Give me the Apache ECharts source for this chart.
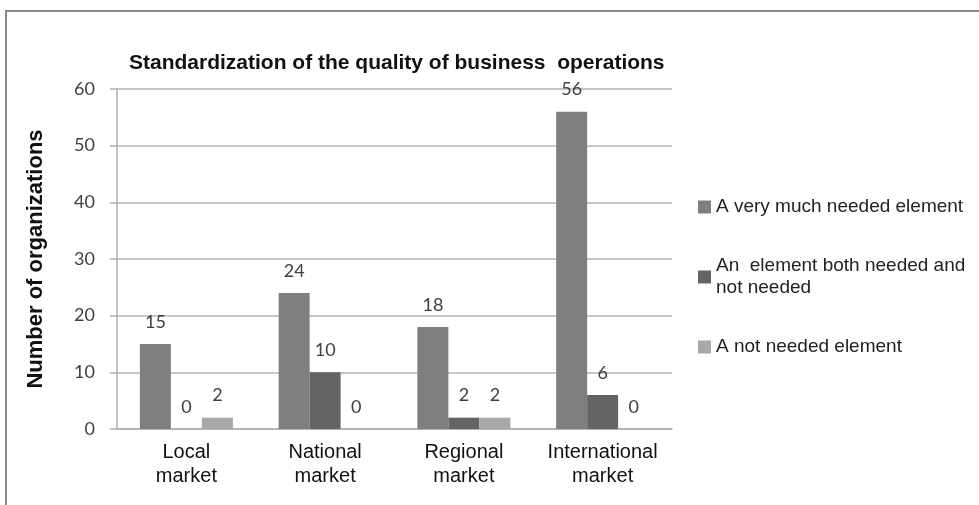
<!DOCTYPE html>
<html>
<head>
<meta charset="utf-8">
<script src="https://cdn.jsdelivr.net/npm/echarts@6/dist/echarts.min.js"></script>
<style>
  html, body { margin: 0; padding: 0; background: #fff; }
  #chart { width: 979px; height: 505px; }
</style>
</head>
<body>
<div id="chart"></div>
<script>
// 数据
const categories = ["Local\nmarket", "National\nmarket", "Regional\nmarket", "International\nmarket"]
const seriesNames = [
    "A very much needed element",
    "An  element both needed and\nnot needed",
    "A not needed element"
]
const veryNeeded = [15, 24, 18, 56]
const bothNeeded = [0, 10, 2, 6]
const notNeeded = [2, 0, 2, 0]
const yTicks = [0, 10, 20, 30, 40, 50, 60]

;(function () {
    let myChart = echarts.init(document.getElementById("chart"))
    const labelStyle = {
        show: true,
        position: "top",
        distance: 13,
        color: "#404040",
        fontFamily: "Lato",
        fontSize: 18
    }
    let option = {
        animation: false,
        color: ["#7f7f7f", "#646464", "#a8a8a8"],
        title: {
            text: "Standardization of the quality of business  operations",
            left: 124,
            top: 48,
            textStyle: {
                fontFamily: "Liberation Sans",
                fontWeight: "bold",
                fontSize: 21,
                color: "#111"
            }
        },
        graphic: [
            {
                type: "rect",
                shape: { x: 6, y: 11, width: 1000, height: 600 },
                style: { fill: "none", stroke: "#8a8a8a", lineWidth: 2 }
            }
        ],
        legend: {
            orient: "vertical",
            left: 693,
            top: 191,
            itemWidth: 13,
            itemHeight: 13,
            itemGap: 37,
            icon: "rect",
            textStyle: {
                fontFamily: "Liberation Sans",
                fontSize: 19,
                lineHeight: 22,
                color: "#222"
            }
        },
        grid: {
            left: 117,
            right: 307,
            top: 89,
            bottom: 76
        },
        xAxis: {
            type: "category",
            data: categories,
            axisTick: { show: false },
            axisLine: { lineStyle: { color: "#b0b0b0", width: 1.5 } },
            axisLabel: {
                interval: 0,
                hideOverlap: false,
                margin: 11,
                fontFamily: "Liberation Sans",
                fontSize: 20,
                lineHeight: 24,
                color: "#111"
            }
        },
        yAxis: {
            type: "value",
            min: yTicks[0],
            max: yTicks[yTicks.length - 1],
            interval: 10,
            name: "Number of organizations",
            nameLocation: "middle",
            nameRotate: 90,
            nameGap: 70,
            nameTextStyle: {
                fontFamily: "Liberation Sans",
                fontWeight: "bold",
                fontSize: 22,
                color: "#111"
            },
            axisLine: { show: true, lineStyle: { color: "#b0b0b0", width: 1.5 } },
            axisTick: { show: true, length: 7, lineStyle: { color: "#b0b0b0", width: 1.5 } },
            axisLabel: {
                margin: 22,
                fontFamily: "Lato",
                fontSize: 18,
                color: "#404040"
            },
            splitLine: { lineStyle: { color: "#b4b4b4", width: 1.5 } }
        },
        series: [
            {
                name: seriesNames[0],
                type: "bar",
                barGap: "0%",
                barCategoryGap: "33%",
                data: veryNeeded,
                label: labelStyle
            },
            {
                name: seriesNames[1],
                type: "bar",
                data: bothNeeded,
                label: labelStyle
            },
            {
                name: seriesNames[2],
                type: "bar",
                data: notNeeded,
                label: labelStyle
            }
        ]
    }
    myChart.setOption(option)
    window.addEventListener("resize", function () {
        myChart.resize()
    })
})()
</script>
</body>
</html>
